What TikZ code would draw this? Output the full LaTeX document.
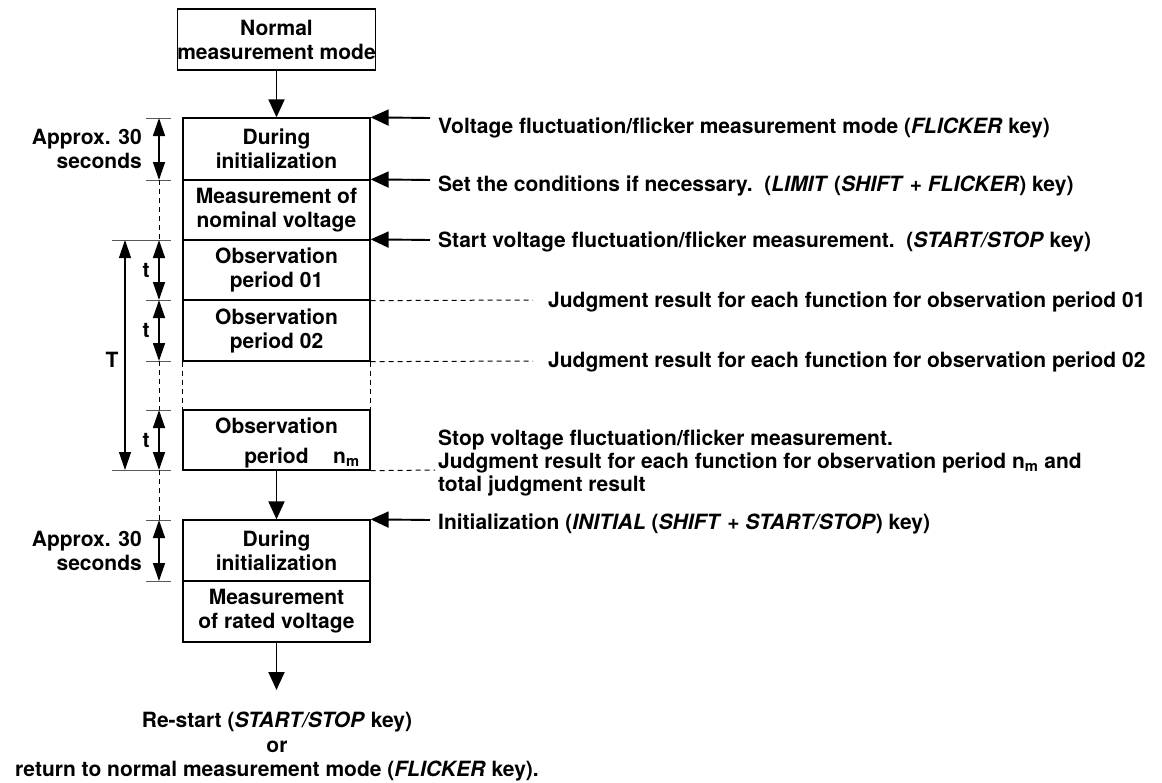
\documentclass[tikz,border=0pt]{standalone}
\usepackage{fontspec}
\setmainfont{TeX Gyre Heros}
\usetikzlibrary{arrows.meta}
\tikzset{
  base/.style={font=\fontsize{21}{24}\selectfont\bfseries, inner sep=0pt},
  stepbox/.style={base, draw, line width=1.3pt, minimum width=187pt, align=center},
  flow/.style={line width=1.9pt, -{Triangle[length=18pt,width=16pt]}},
  dim/.style={line width=1.5pt, {Triangle[length=18pt,width=12pt]}-{Triangle[length=18pt,width=12pt]}},
  tick/.style={line width=1pt, gray!70!black},
  guide/.style={line width=1pt, dashed, dash pattern=on 5pt off 4pt},
  note/.style={base, anchor=west, align=left, font=\fontsize{21}{23}\selectfont\bfseries},
}
\begin{document}
\begin{tikzpicture}[x=1pt,y=-1pt]
\useasboundingbox (0,0) rectangle (1162,782);
% boxes
\node[stepbox, minimum height=61pt] (normal) at (276.5,39.5) {Normal\\measurement mode};
\node[stepbox, minimum height=62pt] (init1) at (276.5,149) {During\\initialization};
\node[stepbox, minimum height=60pt] (nom) at (276.5,210) {Measurement of\\nominal voltage};
\node[stepbox, minimum height=60pt] (obs1) at (276.5,270) {Observation\\period 01};
\node[stepbox, minimum height=61pt] (obs2) at (276.5,330.5) {Observation\\period 02};
\node[stepbox, minimum height=60pt] (obsn) at (276.5,440) {Observation\\\phantom{period}};
\node[base, anchor=base] (per) at (276.5,463) {period};
\node[base, anchor=base west] (nmsub) at (333,463) {n\textsubscript{m}};
\node[stepbox, minimum height=61pt] (init2) at (276.5,550.5) {During\\initialization};
\node[stepbox, minimum height=61pt] (rated) at (276.5,611.5) {Measurement\\of rated voltage};
% dashed gap sides
\draw[guide] (obs2.south west) -- (obsn.north west);
\draw[guide] (obs2.south east) -- (obsn.north east);
% flow arrows
\draw[flow] (normal.south) -- (init1.north);
\draw[flow] (obsn.south) -- (init2.north);
\coordinate (endpt) at (276.5,690);
\draw[flow] (rated.south) -- (endpt);
% bottom text
\node[base, align=center, font=\fontsize{21}{24.5}\selectfont\bfseries] (restart) at (277,747) {Re-start (\textit{START/STOP} key)\\or\\return to normal measurement mode (\textit{FLICKER} key).};
% right arrows and notes
\coordinate (a1) at (430,118);
\coordinate (a2) at (430,180);
\coordinate (a3) at (430,240);
\coordinate (a4) at (430,520);
\draw[flow] (a1) -- (init1.north east);
\draw[flow] (a2) -- (nom.north east);
\draw[flow] (a3) -- (obs1.north east);
\draw[flow] (a4) -- (init2.north east);
\node[note] (n1) at (438,128) {Voltage fluctuation/flicker measurement mode (\textit{FLICKER} key)};
\node[note] (n2) at (438,186) {Set the conditions if necessary.\ \ (\textit{LIMIT} (\textit{SHIFT} + \textit{FLICKER}) key)};
\node[note] (n3) at (438,242) {Start voltage fluctuation/flicker measurement.\ \ (\textit{START/STOP} key)};
\node[note] (n4) at (548,302) {Judgment result for each function for observation period 01};
\node[note] (n5) at (548,362) {Judgment result for each function for observation period 02};
\node[note] (n6) at (438,463) {Stop voltage fluctuation/flicker measurement.\\Judgment result for each function for observation period n\textsubscript{m} and\\total judgment result};
\node[note] (n7) at (438,524) {Initialization (\textit{INITIAL} (\textit{SHIFT} + \textit{START/STOP}) key)};
\coordinate (d1) at (533,300);
\coordinate (d2) at (533,361);
\coordinate (d3) at (435,470);
\draw[guide] (obs1.south east) -- (d1);
\draw[guide] (obs2.south east) -- (d2);
\draw[guide] (obsn.south east) -- (d3);
% left dimension ticks
\foreach \y in {118,180,300,361,410,520,581} \draw[tick] (146,\y) -- (171,\y);
\foreach \y in {240,470} \draw[tick] (112,\y) -- (171,\y);
% dimension arrows
\coordinate (t1a) at (159,118); \coordinate (t1b) at (159,180);
\coordinate (t2a) at (159,240); \coordinate (t2b) at (159,300);
\coordinate (t3a) at (159,300); \coordinate (t3b) at (159,361);
\coordinate (t4a) at (159,410); \coordinate (t4b) at (159,470);
\coordinate (t5a) at (159,520); \coordinate (t5b) at (159,581);
\coordinate (Ta) at (125,240); \coordinate (Tb) at (125,470);
\draw[dim] (t1a) -- (t1b);
\draw[dim] (t2a) -- (t2b);
\draw[dim] (t3a) -- (t3b);
\draw[dim] (t4a) -- (t4b);
\draw[dim] (t5a) -- (t5b);
\draw[dim, line width=1.2pt] (Ta) -- (Tb);
\draw[guide] (t1b) -- (t2a);
\draw[guide] (t3b) -- (t4a);
\draw[guide] (t4b) -- (t5a);
% left labels
\node[base, anchor=east, align=right] (ap1) at (142,149) {Approx. 30\\seconds};
\node[base, anchor=east, align=right] (ap2) at (142,550.5) {Approx. 30\\seconds};
\node[base] (Tlab) at (112,360) {T};
\node[base] (tl1) at (146,270) {t};
\node[base] (tl2) at (146,330) {t};
\node[base] (tl3) at (146,440) {t};
\end{tikzpicture}
\end{document}
